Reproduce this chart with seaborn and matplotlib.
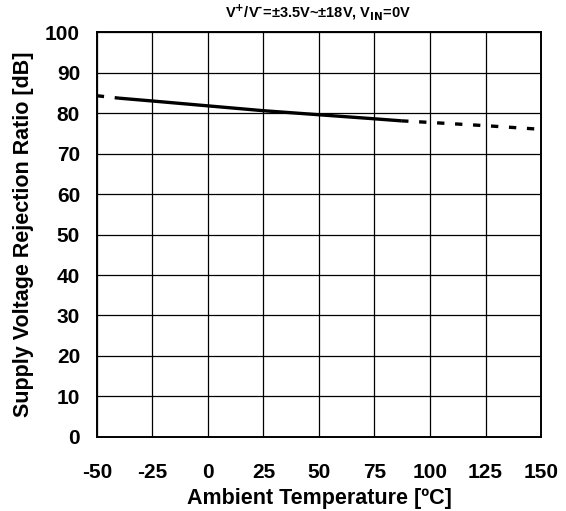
import matplotlib
matplotlib.use("Agg")
import matplotlib.pyplot as plt
import seaborn as sns
import pandas as pd

# Data
temp_solid = [-40, -25, 0, 25, 50, 75, 87]
svr_solid = [83.7, 83.0, 81.8, 80.6, 79.6, 78.6, 78.1]
temp_dash_low = [-50, -40]
svr_dash_low = [84.3, 83.7]
temp_dash_high = [87, 100, 125, 150]
svr_dash_high = [78.1, 77.7, 76.9, 76.0]

x_ticks = [-50, -25, 0, 25, 50, 75, 100, 125, 150]
y_ticks = [0, 10, 20, 30, 40, 50, 60, 70, 80, 90, 100]

sns.set_theme(style="white")
plt.rcParams['font.family'] = ['Liberation Sans', 'DejaVu Sans']
plt.rcParams['font.weight'] = 'bold'
plt.rcParams['mathtext.default'] = 'bf'
plt.rcParams['text.color'] = 'black'
plt.rcParams['axes.labelcolor'] = 'black'
plt.rcParams['xtick.color'] = 'black'
plt.rcParams['ytick.color'] = 'black'

fig = plt.figure(figsize=(5.66, 5.11), dpi=100)
ax = fig.add_axes([0.171, 0.145, 0.785, 0.792])

df_solid = pd.DataFrame({"t": temp_solid, "v": svr_solid})
df_low = pd.DataFrame({"t": temp_dash_low, "v": svr_dash_low})
df_high = pd.DataFrame({"t": temp_dash_high, "v": svr_dash_high})

sns.lineplot(data=df_solid, x="t", y="v", ax=ax, color="black", linewidth=2.4,
             solid_capstyle="butt")
for d in (df_low, df_high):
    sns.lineplot(data=d, x="t", y="v", ax=ax, color="black", linewidth=2.4,
                 linestyle=(0, (2.2, 3.2)), dash_capstyle="butt")

ax.set_xlim(-50, 150)
ax.set_ylim(0, 100)
ax.set_xticks(x_ticks)
ax.set_yticks(y_ticks)
ax.set_xticklabels([str(t) for t in x_ticks], fontsize=15, fontweight="bold", color="black")
ax.set_yticklabels([str(t) for t in y_ticks], fontsize=15, fontweight="bold", color="black")
ax.tick_params(axis="both", length=0, colors="black", labelcolor="black")
ax.tick_params(axis="y", pad=12)
ax.tick_params(axis="x", pad=19)
ax.grid(True, color="black", linewidth=0.9)
for s in ax.spines.values():
    s.set_color("black")
    s.set_linewidth(1.4)
    s.set_visible(True)

ax.set_xlabel("Ambient Temperature [ºC]", fontsize=15.5, fontweight="bold", labelpad=4, color="black")
ax.set_ylabel("Supply Voltage Rejection Ratio [dB]", fontsize=15.5, fontweight="bold", labelpad=8, color="black")

fig.text(0.562, 0.976, r"V$^{\text{+}}$/V$^{\text{-}}$=±3.5V~±18V, V$_{\text{IN}}$=0V",
         ha="center", va="center", fontsize=10.5, fontweight="bold", color="black")

fig.savefig("out.png", dpi=100, facecolor="white")
